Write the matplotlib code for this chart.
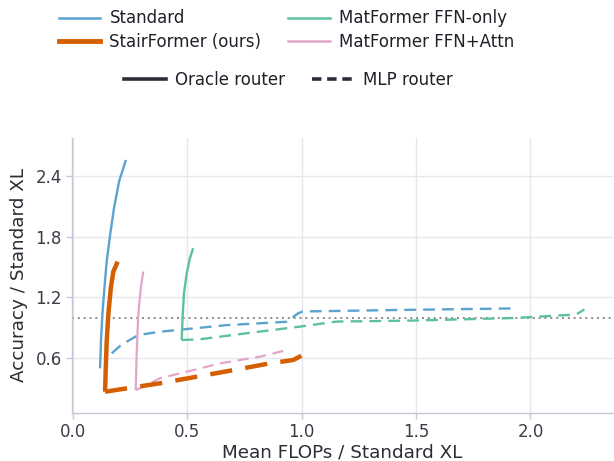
import matplotlib
matplotlib.use("Agg")
import matplotlib.pyplot as plt
from matplotlib.lines import Line2D

plt.rcParams['font.family'] = ['DejaVu Sans']

# ---- data ----
std_oracle_x = [0.118, 0.122, 0.128, 0.137, 0.147, 0.162, 0.179, 0.201, 0.231]
std_oracle_y = [0.498, 0.761, 1.025, 1.289, 1.553, 1.817, 2.081, 2.344, 2.558]
std_mlp_x = [0.169, 0.210, 0.285, 0.380, 0.496, 0.671, 0.933, 0.983, 1.004, 1.43, 1.921]
std_mlp_y = [0.646, 0.729, 0.827, 0.86, 0.886, 0.925, 0.958, 1.04, 1.06, 1.075, 1.09]

stair_oracle_x = [0.140, 0.143, 0.147, 0.154, 0.165, 0.176, 0.195]
stair_oracle_y = [0.267, 0.498, 0.761, 1.025, 1.289, 1.454, 1.552]
stair_mlp_x = [0.140, 0.234, 0.380, 0.540, 0.700, 0.860, 0.962, 1.006]
stair_mlp_y = [0.267, 0.30, 0.35, 0.415, 0.48, 0.547, 0.58, 0.63]

ffn_oracle_x = [0.475, 0.479, 0.485, 0.497, 0.511, 0.525]
ffn_oracle_y = [0.778, 1.008, 1.24, 1.438, 1.586, 1.685]
ffn_mlp_x = [0.475, 0.555, 0.759, 0.991, 1.151, 1.486, 1.923, 2.20, 2.236]
ffn_mlp_y = [0.778, 0.785, 0.845, 0.91, 0.96, 0.97, 0.995, 1.03, 1.08]

attn_oracle_x = [0.274, 0.278, 0.285, 0.296, 0.307]
attn_oracle_y = [0.283, 0.63, 1.025, 1.289, 1.454]
attn_mlp_x = [0.274, 0.307, 0.380, 0.525, 0.642, 0.817, 0.948]
attn_mlp_y = [0.283, 0.317, 0.40, 0.48, 0.547, 0.613, 0.686]

names = ["Standard", "StairFormer (ours)", "MatFormer FFN-only", "MatFormer FFN+Attn"]
colors = ["#5ba3cf", "#d55e00", "#5dc1a0", "#e2a6cb"]
router_names = ["Oracle router", "MLP router"]
reference_level = 1.0

# ---- plot ----
fig = plt.figure(figsize=(6.14, 4.61), dpi=100)
ax = fig.add_axes([0.1175, 0.104, 0.8805, 0.597])

dash = (0, (5, 3))
series = [
    (std_oracle_x, std_oracle_y, std_mlp_x, std_mlp_y, colors[0], 1.7),
    (ffn_oracle_x, ffn_oracle_y, ffn_mlp_x, ffn_mlp_y, colors[2], 1.7),
    (attn_oracle_x, attn_oracle_y, attn_mlp_x, attn_mlp_y, colors[3], 1.6),
    (stair_oracle_x, stair_oracle_y, stair_mlp_x, stair_mlp_y, colors[1], 3.2),
]
for ox, oy, mx, my, c, lw in series:
    ax.plot(ox, oy, color=c, lw=lw, solid_capstyle='butt', solid_joinstyle='round', zorder=3)
    ax.plot(mx, my, color=c, lw=lw, linestyle=dash, zorder=3)

ax.axhline(reference_level, color="#8a8a8a", lw=1.4, linestyle=(0, (1, 2)), zorder=2)

ax.set_xlim(-0.004, 2.36)
ax.set_ylim(0.056, 2.776)
ax.set_xticks([0.0, 0.5, 1.0, 1.5, 2.0])
ax.set_yticks([0.6, 1.2, 1.8, 2.4])
ax.grid(True, color="#e6e6ee", lw=1.0, zorder=0)
ax.set_axisbelow(True)
for s in ["top", "right"]:
    ax.spines[s].set_visible(False)
for s in ["left", "bottom"]:
    ax.spines[s].set_color("#c5c7d6")
    ax.spines[s].set_linewidth(1.0)
ax.tick_params(colors="#c5c7d6", labelcolor="#3a3d48", labelsize=12, length=4, width=1.0)
ax.set_xlabel("Mean FLOPs / Standard XL", fontsize=13.2, color="#2a2d36", labelpad=1.5)
ax.set_ylabel("Accuracy / Standard XL", fontsize=13.2, color="#2a2d36", labelpad=5)

h1 = [Line2D([], [], color=colors[0], lw=1.8),
      Line2D([], [], color=colors[1], lw=3.5),
      Line2D([], [], color=colors[2], lw=1.8),
      Line2D([], [], color=colors[3], lw=1.8)]
leg1 = fig.legend(h1, names, loc="upper left", bbox_to_anchor=(0.071, 1.012), ncol=2,
                  frameon=False, fontsize=12, handlelength=2.5, handletextpad=0.55,
                  columnspacing=1.6, labelspacing=0.35)
h2 = [Line2D([], [], color="#2b2d38", lw=2.6),
      Line2D([], [], color="#2b2d38", lw=2.6, linestyle=(0, (2.6, 1.6)))]
leg2 = fig.legend(h2, router_names, loc="upper left", bbox_to_anchor=(0.178, 0.879), ncol=2,
                  frameon=False, fontsize=12, handlelength=2.5, handletextpad=0.55,
                  columnspacing=1.6)
for leg in (leg1, leg2):
    for t in leg.get_texts():
        t.set_color("#1f2129")

fig.savefig("out.png", dpi=100)
